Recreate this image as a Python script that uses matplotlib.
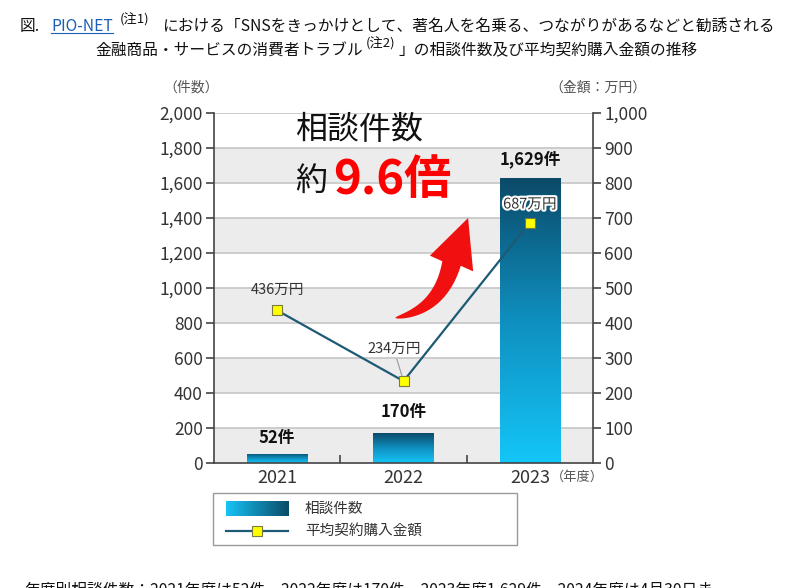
import numpy as np
import matplotlib
matplotlib.use('Agg')
import matplotlib.pyplot as plt
from matplotlib.colors import LinearSegmentedColormap
from matplotlib.patches import Rectangle, Polygon
import matplotlib.patheffects as pe

plt.rcParams['font.family'] = ['Noto Sans CJK JP', 'DejaVu Sans']

# data
years = ['2021', '2022', '2023']
counts = [52, 170, 1629]
count_labels = ['52件', '170件', '1,629件']
amounts = [436, 234, 687]
amount_labels = ['436万円', '234万円', '687万円']
left_ticks = [0, 200, 400, 600, 800, 1000, 1200, 1400, 1600, 1800, 2000]
right_ticks = [0, 100, 200, 300, 400, 500, 600, 700, 800, 900, 1000]

txt = '#333333'
line_col = '#1d5a75'
bar_cmap = LinearSegmentedColormap.from_list('bar', ['#14c6f8', '#0f8fbf', '#0b4a68'])

fig = plt.figure(figsize=(8, 5.88), dpi=100)

# overlay axes for title / legend (drawn under the chart)
bg = fig.add_axes([0, 0, 1, 1])
bg.set_xlim(0, 1)
bg.set_ylim(0, 1)
bg.axis('off')

ax = fig.add_axes([0.2675, 0.2126, 0.4738, 0.5952])
x = np.arange(len(years))

# background bands + grid
for i, y0 in enumerate(left_ticks[:-1]):
    if i % 2 == 0:
        ax.axhspan(y0, y0 + 200, color='#ececec', zorder=0, lw=0)
for y0 in left_ticks[1:]:
    ax.axhline(y0, color='#c9c9c9', lw=1.3, zorder=0.5)

# gradient bars
grad = np.linspace(0, 1, 256).reshape(-1, 1)
bars = ax.bar(x, counts, width=0.48, color='none', edgecolor='none', zorder=2)
for b in bars:
    bx, bw, bh = b.get_x(), b.get_width(), b.get_height()
    im = ax.imshow(grad, cmap=bar_cmap, origin='lower', aspect='auto',
                   extent=(bx, bx + bw, 0, bh), zorder=2)
    im.set_clip_path(b)

label_offsets = [5, 9, 7]
for xi, v, lab, off in zip(x, counts, count_labels, label_offsets):
    ax.annotate(lab, (xi, v), xytext=(0, off), textcoords='offset points',
                ha='center', va='bottom', fontsize=12, fontweight='bold', color='#111111', zorder=5)

ax.set_xlim(-0.5, 2.5)
ax.set_ylim(0, 2000)
ax.set_yticks(left_ticks)
ax.set_yticklabels([f'{t:,}' for t in left_ticks])
ax.set_xticks(x)
ax.set_xticklabels(years)
ax.set_xticks([0.5, 1.5], minor=True)
ax.tick_params(axis='x', which='major', length=0, pad=4, labelsize=13, labelcolor=txt)
ax.tick_params(axis='x', which='minor', direction='in', length=6, width=1.2, color='#444')
ax.tick_params(axis='y', length=6, width=1.2, color='#444', pad=2, labelsize=12.5, labelcolor=txt)
for s in ['left', 'bottom']:
    ax.spines[s].set_color('#444')
    ax.spines[s].set_linewidth(1.2)
ax.spines['top'].set_visible(False)
ax.spines['right'].set_visible(False)

# amount line
ax2 = ax.twinx()
ax2.plot(x, amounts, color=line_col, lw=1.6, marker='s', markersize=6.5,
         markerfacecolor='#ffff00', markeredgecolor='#7a7a40', markeredgewidth=0.8, zorder=4)
ax2.set_ylim(0, 1000)
ax2.set_yticks(right_ticks)
ax2.set_yticklabels([f'{t:,}' for t in right_ticks])
ax2.tick_params(axis='y', length=6, width=1.2, color='#444', pad=2, labelsize=12.5, labelcolor=txt)
ax2.spines['right'].set_color('#444')
ax2.spines['right'].set_linewidth(1.2)
for s in ['top', 'left', 'bottom']:
    ax2.spines[s].set_visible(False)

ax2.annotate(amount_labels[0], (x[0], amounts[0]), xytext=(0, 10), textcoords='offset points',
             ha='center', va='bottom', fontsize=10.5, color=txt)
ax2.annotate(amount_labels[1], (x[1], amounts[1]), xytext=(-7, 18), textcoords='offset points',
             ha='center', va='bottom', fontsize=10.5, color=txt,
             arrowprops=dict(arrowstyle='-', color='#999999', lw=0.8, shrinkA=0, shrinkB=4))
ax2.annotate(amount_labels[2], (x[2], amounts[2]), xytext=(0, 8), textcoords='offset points',
             ha='center', va='bottom', fontsize=10.5, color=txt,
             path_effects=[pe.withStroke(linewidth=3, foreground='white')])

# red tapered arrow (tail, bend, head base, tip in data units; widths in pixels)
arrow_pts = ax.transData.transform([(0.933, 829), (1.289, 874), (1.38, 1140), (1.511, 1400)])
p0, pc, p2, tip = arrow_pts
t = np.linspace(0, 1, 40)[:, None]
curve = (1 - t) ** 2 * p0 + 2 * (1 - t) * t * pc + t ** 2 * p2
tang = 2 * (1 - t) * (pc - p0) + 2 * t * (p2 - pc)
tang /= np.linalg.norm(tang, axis=1, keepdims=True)
norm = np.column_stack([-tang[:, 1], tang[:, 0]])
half = 9.5 * t ** 0.6
left_side = curve + norm * half
right_side = curve - norm * half
hdir = (tip - p2) / np.linalg.norm(tip - p2)
hn = np.array([-hdir[1], hdir[0]])
shape = np.vstack([left_side, [p2 + hn * 23], [tip], [p2 - hn * 23], right_side[::-1]])
ax.add_patch(Polygon(ax.transData.inverted().transform(shape), closed=True,
                     facecolor='#f01010', edgecolor='none', zorder=3))

# big callout
fig.text(0.369, 0.779, '相談件数', fontsize=23, color='#111111', va='center')
fig.text(0.369, 0.692, '約', fontsize=23, color='#111111', va='center')
fig.text(0.416, 0.694, '9.6倍', fontsize=34, color='#ff0000', va='center', fontweight='bold')

# axis captions
fig.text(0.239, 0.851, '（件数）', fontsize=10, color='#555555', ha='center', va='center')
fig.text(0.748, 0.851, '（金額：万円）', fontsize=10, color='#555555', ha='center', va='center')
fig.text(0.722, 0.188, '（年度）', fontsize=9.5, color='#555555', ha='center', va='center')

# title
t0 = bg.text(0.025, 0.947, '図.', fontsize=11.3, color='#111111', va='baseline')
t1 = bg.annotate('PIO-NET', xy=(1, 0), xycoords=t0, xytext=(8, 0), textcoords='offset points',
                 fontsize=11.3, color='#1a5fb4', va='bottom')
bg.annotate('(注1)', xy=(1, 0.5), xycoords=t1, xytext=(5, 0), textcoords='offset points',
            fontsize=9.5, color='#111111', va='bottom')
bg.annotate('における「SNSをきっかけとして、著名人を名乗る、つながりがあるなどと勧誘される',
            xy=(1, 0), xycoords=t1, xytext=(35, 0), textcoords='offset points',
            fontsize=11.3, color='#111111', va='bottom')
fig.canvas.draw()
bb = t1.get_window_extent()
bg.plot([bb.x0 / 800, bb.x1 / 800], [(bb.y0 + 2) / 588] * 2, color='#1a5fb4', lw=0.8)

s0 = bg.text(0.119, 0.906, '金融商品・サービスの消費者トラブル', fontsize=11.3, color='#111111', va='baseline')
bg.annotate('(注2)', xy=(1, 0.5), xycoords=s0, xytext=(2, 0), textcoords='offset points',
            fontsize=9.5, color='#111111', va='bottom')
bg.annotate('」の相談件数及び平均契約購入金額の推移', xy=(1, 0), xycoords=s0, xytext=(26, 0),
            textcoords='offset points', fontsize=11.3, color='#111111', va='bottom')

# legend box
bg.add_patch(Rectangle((0.266, 0.073), 0.38, 0.089, facecolor='white', edgecolor='#999999', lw=1))
bg.imshow(grad.T, cmap=LinearSegmentedColormap.from_list('lg', ['#16c4f6', '#0b4a68']),
          aspect='auto', extent=(0.2825, 0.36, 0.123, 0.147), zorder=3)
bg.set_xlim(0, 1)
bg.set_ylim(0, 1)
bg.plot([0.2825, 0.36], [0.097, 0.097], color=line_col, lw=1.6, zorder=3)
bg.plot([0.321], [0.097], marker='s', markersize=6.5, markerfacecolor='#ffff00',
        markeredgecolor='#7a7a40', markeredgewidth=0.8, zorder=4)
bg.text(0.381, 0.135, '相談件数', fontsize=10.5, color=txt, va='center')
bg.text(0.381, 0.097, '平均契約購入金額', fontsize=10.5, color=txt, va='center')

# footnote (cut off at bottom, as in the source page)
bg.text(0.03, 0.011, '年度別相談件数：2021年度は52件、2022年度は170件、2023年度1,629件、2024年度は4月30日ま',
        fontsize=11.3, color='#111111', va='top')

fig.savefig('out.png', dpi=100)
